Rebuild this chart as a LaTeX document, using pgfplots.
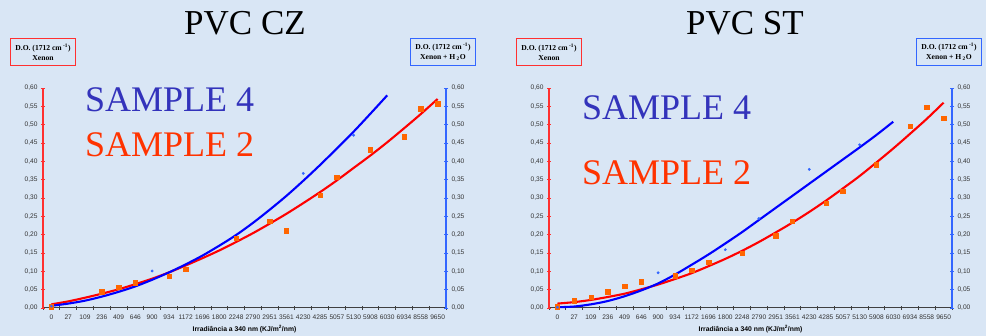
\documentclass[border=0pt]{standalone}
\usepackage{fontspec}
\setmainfont{Liberation Serif}
\newfontfamily\arial{Liberation Sans}
\usepackage{pgfplots}
\usepackage{pgfplotstable}
\pgfplotsset{compat=1.18}

\definecolor{bgblue}{HTML}{D9E6F5}
\definecolor{axred}{HTML}{FF3030}
\definecolor{axblue}{HTML}{3366FF}
\definecolor{linered}{HTML}{FF0000}
\definecolor{lineblue}{HTML}{0000FF}
\definecolor{ptorange}{HTML}{FF6600}
\definecolor{ptblue}{HTML}{3366FF}
\definecolor{txtblue}{HTML}{3333BB}
\definecolor{txtred}{HTML}{FF3300}
\definecolor{axgray}{HTML}{404040}

% ---------- PVC CZ ----------
\pgfplotstableread{
i y
0 0.003
3 0.044
4 0.057
5 0.069
7 0.087
8 0.106
11 0.191
13 0.236
14 0.211
16 0.308
17 0.357
19 0.432
21 0.467
22 0.544
23 0.557
}\czorange
\pgfplotstableread{
i y
0 0.005
6 0.101
15 0.367
18 0.471
}\czblue
\pgfplotstableread{
i y
0 0.010
1 0.018
2 0.028
3 0.039
4 0.051
5 0.065
6 0.080
7 0.097
8 0.116
9 0.136
10 0.157
11 0.180
12 0.204
13 0.230
14 0.257
15 0.286
16 0.316
17 0.348
18 0.382
19 0.416
20 0.452
21 0.490
22 0.529
23 0.570
}\czredfit
\pgfplotstableread{
i y
0 0.006
1 0.012
2 0.020
3 0.031
4 0.044
5 0.059
6 0.077
7 0.097
8 0.119
9 0.143
10 0.170
11 0.199
12 0.232
13 0.268
14 0.306
15 0.347
16 0.390
17 0.435
18 0.481
19 0.530
20 0.580
}\czbluefit

% ---------- PVC ST ----------
\pgfplotstableread{
i y
0 0.003
1 0.020
2 0.030
3 0.044
4 0.060
5 0.072
7 0.088
8 0.103
9 0.125
11 0.150
13 0.197
14 0.236
16 0.286
17 0.319
19 0.391
21 0.496
22 0.547
23 0.517
}\storange
\pgfplotstableread{
i y
0 0.002
6 0.096
10 0.159
12 0.244
15 0.378
18 0.445
}\stblue
\pgfplotstableread{
i y
0 0.012
1 0.016
2 0.022
3 0.030
4 0.039
5 0.051
6 0.064
7 0.079
8 0.095
9 0.114
10 0.134
11 0.156
12 0.180
13 0.206
14 0.233
15 0.262
16 0.293
17 0.326
18 0.360
19 0.397
20 0.435
21 0.475
22 0.516
23 0.560
}\stredfit
\pgfplotstableread{
i y
0 0.002
1 0.004
2 0.010
3 0.019
4 0.032
5 0.048
6 0.067
7 0.091
8 0.118
9 0.146
10 0.176
11 0.207
12 0.240
13 0.273
14 0.306
15 0.339
16 0.372
17 0.405
18 0.438
19 0.472
20 0.508
}\stbluefit

\pgfplotsset{
  panel/.style={
    scale only axis, width=403pt, height=220pt,
    xmin=-0.5, xmax=23.5, ymin=0, ymax=0.6,
    ytick={0,0.05,0.10,0.15,0.20,0.25,0.30,0.35,0.40,0.45,0.50,0.55,0.60},
    tick align=center, major tick length=4pt,
    ticklabel style={font=\arial\fontsize{6.6}{7}\selectfont, text=black!80},
    yticklabel style={/pgf/number format/.cd, fixed, fixed zerofill, precision=2, use comma, assume math mode=true},
    clip=false,
  },
  leftpanel/.style={
    panel,
    axis x line*=bottom, axis y line*=left,
    x axis line style={draw=axgray, line width=1pt},
    y axis line style={draw=axred, line width=1.2pt},
    x tick style={draw=axgray, line width=0.8pt},
    y tick style={draw=axred, line width=0.8pt},
    xtick={-0.5,0.5,...,23.5},
    xticklabels={0,27,109,236,409,646,900,934,1172,1696,1800,2248,2790,2951,3561,4230,4285,5057,5130,5908,6030,6934,8558,9650,{}},
    x tick label style={xshift=8.4pt, yshift=-1.5pt},
    xlabel={\textbf{Irradiância a 340 nm (KJ/m\textsuperscript{2}/nm)}},
    xlabel style={font=\arial\fontsize{6.8}{7}\selectfont, at={(axis description cs:0.5,0)}, anchor=center, yshift=-21pt},
  },
  rightaxis/.style={
    panel,
    axis x line=none, axis y line*=right,
    y axis line style={draw=axblue, line width=1.2pt},
    y tick style={draw=axblue, line width=0.8pt},
  },
  redfit/.style={linered, line width=2.1pt, smooth, no marks},
  bluefit/.style={lineblue, line width=2.1pt, smooth, no marks},
  orangept/.style={only marks, mark=square*, mark size=2.2pt, mark options={fill=ptorange, draw=ptorange}},
  bluept/.style={only marks, mark=*, mark size=1.2pt, mark options={fill=ptblue, draw=ptblue}},
}

\begin{document}
\begin{tikzpicture}[x=1pt, y=1pt]
\fill[bgblue] (0,0) rectangle (986,336);
\path[use as bounding box] (0,0) rectangle (986,336);

% ---- left panel: PVC CZ ----
\begin{axis}[leftpanel, at={(43pt,28pt)}, anchor=south west]
  \addplot[redfit] table[x=i, y=y] {\czredfit};
  \addplot[bluefit] table[x=i, y=y] {\czbluefit};
  \addplot[orangept] table[x=i, y=y] {\czorange};
  \addplot[bluept] table[x=i, y=y] {\czblue};
\end{axis}
\begin{axis}[rightaxis, at={(43pt,28pt)}, anchor=south west]
\end{axis}

% ---- right panel: PVC ST ----
\begin{axis}[leftpanel, at={(549pt,28pt)}, anchor=south west]
  \addplot[redfit] table[x=i, y=y] {\stredfit};
  \addplot[bluefit] table[x=i, y=y] {\stbluefit};
  \addplot[orangept] table[x=i, y=y] {\storange};
  \addplot[bluept] table[x=i, y=y] {\stblue};
\end{axis}
\begin{axis}[rightaxis, at={(549pt,28pt)}, anchor=south west]
\end{axis}

% titles
\node[font=\fontsize{35}{40}\selectfont] at (245,313) {PVC CZ};
\node[font=\fontsize{35}{40}\selectfont] at (745,313) {PVC ST};

% sample labels
\node[anchor=base west, text=txtblue, font=\fontsize{36}{40}\selectfont, inner sep=0pt] at (85,224) {SAMPLE 4};
\node[anchor=base west, text=txtred, font=\fontsize{36}{40}\selectfont, inner sep=0pt] at (85,179) {SAMPLE 2};
\node[anchor=base west, text=txtblue, font=\fontsize{36}{40}\selectfont, inner sep=0pt] at (582,216) {SAMPLE 4};
\node[anchor=base west, text=txtred, font=\fontsize{36}{40}\selectfont, inner sep=0pt] at (582,151) {SAMPLE 2};

% axis caption boxes
\tikzset{dobox/.style={draw=#1, line width=0.9pt, align=center, inner xsep=4.5pt, inner ysep=5pt,
  font=\bfseries\fontsize{7.6}{10}\selectfont}}
\node[dobox=axred] at (43,284) {D.O. (1712 cm\textsuperscript{ -1})\\Xenon};
\node[dobox=axblue] at (443,284) {D.O. (1712 cm\textsuperscript{ -1})\\Xenon + H\textsubscript{ 2}O};
\node[dobox=axred] at (549,284) {D.O. (1712 cm\textsuperscript{ -1})\\Xenon};
\node[dobox=axblue] at (949,284) {D.O. (1712 cm\textsuperscript{ -1})\\Xenon + H\textsubscript{ 2}O};
\end{tikzpicture}
\end{document}
